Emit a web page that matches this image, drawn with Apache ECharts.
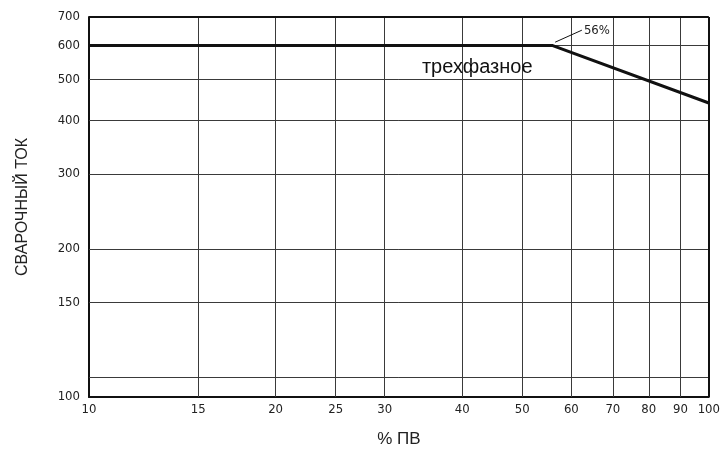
<!DOCTYPE html>
<html><head><meta charset="utf-8">
<script src="https://cdn.jsdelivr.net/npm/echarts@6/dist/echarts.min.js"></script>
<style>html,body{margin:0;padding:0;background:#fff}#c{width:723px;height:458px}</style>
</head><body><div id="c"></div>
<script>
const xTicks = [10, 15, 20, 25, 30, 40, 50, 60, 70, 80, 90, 100];
const yTicks = [100, 150, 200, 300, 400, 500, 600, 700];
const yMin = 90, yMax = 700;
const lineX = [10, 56, 100];
const lineY = [600, 600, 440];
const annot56 = {from: [56.5, 611], to: [62.4, 652], text: '56%'};
const seriesLabel = {pos: [42.3, 533], text: 'трехфазное'};

const narrow = '"DejaVu Sans Condensed", "Liberation Sans Narrow", "Liberation Sans", sans-serif';
const chart = echarts.init(document.getElementById('c'));
const gridColor = '#3a3a3a';
const xGrid = xTicks.slice(1, -1).map(v => [{coord: [v, yMin]}, {coord: [v, yMax]}]);
const yGrid = yTicks.slice(0, -1).map(v => [{coord: [10, v]}, {coord: [100, v]}]);

chart.setOption({
  animation: false,
  grid: {left: 89, right: 13, top: 17, bottom: 61, show: false},
  xAxis: {
    type: 'log', logBase: 10, min: 10, max: 100,
    name: '% ПВ', nameLocation: 'middle', nameGap: 34,
    nameTextStyle: {fontFamily: 'Liberation Sans', fontSize: 17, color: '#222'},
    axisLine: {show: true, lineStyle: {color: '#111', width: 2}},
    axisTick: {show: false},
    splitLine: {show: false},
    axisLabel: {customValues: xTicks, fontFamily: narrow, fontSize: 13, color: '#222', margin: 6}
  },
  yAxis: {
    type: 'log', logBase: 10, min: yMin, max: yMax,
    name: 'СВАРОЧНЫЙ ТОК', nameLocation: 'middle', nameGap: 58, nameRotate: 90,
    nameTextStyle: {fontFamily: 'Liberation Sans', fontSize: 16, color: '#222'},
    axisLine: {show: true, lineStyle: {color: '#111', width: 2}},
    axisTick: {show: false},
    splitLine: {show: false},
    axisLabel: {
      customValues: [yMin].concat(yTicks.slice(1)),
      formatter: v => (Math.abs(v - yMin) < 1e-6 ? String(yTicks[0]) : String(Math.round(v))),
      fontFamily: narrow, fontSize: 13, color: '#222', margin: 9
    }
  },
  series: [
    {
      type: 'line', silent: true, symbol: 'none',
      data: lineX.map((x, i) => [x, lineY[i]]),
      lineStyle: {color: '#111', width: 3},
      z: 5,
      markLine: {
        silent: true, symbol: 'none', label: {show: false},
        lineStyle: {color: gridColor, width: 1, type: 'solid'},
        data: xGrid.concat(yGrid).concat([
          [{coord: [100, yMin], lineStyle: {color: '#111', width: 2}}, {coord: [100, yMax]}],
          [{coord: [10, yMax], lineStyle: {color: '#111', width: 2}}, {coord: [100, yMax]}],
          [{coord: annot56.from, lineStyle: {color: '#111', width: 1}}, {coord: annot56.to}]
        ])
      },
      markPoint: {
        silent: true, symbol: 'circle', symbolSize: 0,
        data: [
          {coord: annot56.to, label: {show: true, formatter: annot56.text, position: 'right', distance: 2,
            fontFamily: narrow, fontSize: 13, color: '#222'}},
          {coord: seriesLabel.pos, label: {show: true, formatter: seriesLabel.text, position: 'inside',
            fontFamily: 'Liberation Sans', fontSize: 20, color: '#111'}}
        ]
      }
    }
  ]
});
</script></body></html>
